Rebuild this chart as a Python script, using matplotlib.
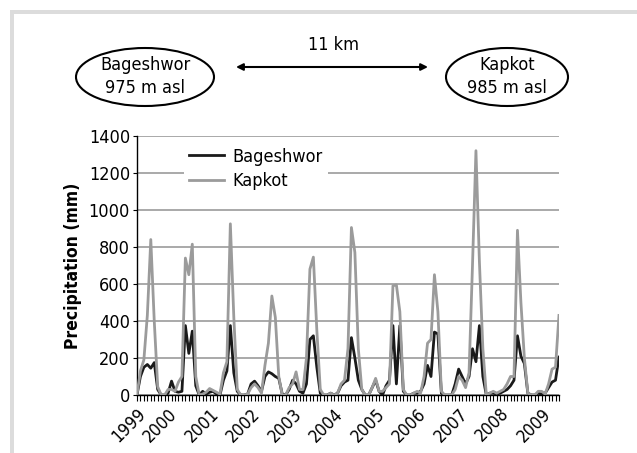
import matplotlib.pyplot as plt
from matplotlib.patches import Ellipse, Rectangle
import numpy as np

plt.rcParams['font.family'] = ['DejaVu Sans']
plt.rcParams['font.stretch'] = 'condensed'

# monthly rainfall, Apr 1999 - Jun 2009
bageshwor = [0, 100, 150, 165, 145, 175, 30, 0, 0,
             10, 75, 20, 15, 20, 375, 225, 345, 50, 0, 20, 5,
             15, 20, 5, 0, 80, 130, 375, 120, 20, 0, 0, 5,
             60, 75, 50, 20, 100, 125, 115, 100, 90, 5, 0, 30,
             80, 60, 20, 10, 60, 300, 320, 150, 10, 0, 0, 10,
             0, 10, 50, 70, 80, 310, 200, 80, 30, 0, 0, 40,
             80, 20, 0, 50, 80, 375, 60, 375, 20, 0, 0, 10,
             10, 20, 60, 160, 100, 340, 330, 10, 0, 0, 0, 60,
             140, 100, 60, 100, 250, 180, 375, 100, 0, 10, 10, 5,
             10, 20, 30, 50, 80, 320, 210, 170, 10, 0, 0, 10,
             5, 10, 40, 70, 80, 205]
kapkot = [0, 130, 190, 430, 840, 400, 45, 0, 0,
          30, 30, 20, 70, 100, 740, 650, 815, 100, 0, 5, 15,
          35, 25, 15, 5, 120, 180, 925, 420, 30, 0, 0, 5,
          40, 60, 40, 10, 160, 280, 535, 420, 100, 0, 0, 40,
          60, 125, 30, 30, 200, 680, 745, 350, 30, 0, 0, 10,
          0, 10, 60, 80, 250, 905, 770, 250, 30, 0, 0, 40,
          90, 20, 20, 40, 60, 590, 595, 450, 30, 0, 0, 10,
          20, 10, 100, 280, 300, 650, 450, 20, 0, 0, 0, 30,
          100, 80, 40, 120, 700, 1320, 720, 250, 0, 10, 20, 10,
          20, 30, 60, 100, 100, 890, 500, 200, 10, 0, 0, 20,
          20, 5, 60, 140, 150, 430]
years = ['1999', '2000', '2001', '2002', '2003', '2004', '2005', '2006', '2007', '2008', '2009']
year_pos = [0, 9, 21, 33, 45, 57, 69, 81, 93, 105, 117]

fig = plt.figure(figsize=(6.37, 4.53), dpi=100)

# overlay in pixel coords for frame + station diagram
ov = fig.add_axes([0, 0, 1, 1])
ov.set_xlim(0, 637)
ov.set_ylim(453, 0)
ov.axis('off')
ov.add_patch(Rectangle((10, 10), 627, 4, color='#dcdcdc', lw=0))
ov.add_patch(Rectangle((10, 10), 4, 443, color='#dcdcdc', lw=0))
ov.add_patch(Ellipse((145, 77), 138, 58, fill=False, ec='black', lw=1.5))
ov.add_patch(Ellipse((507, 77), 122, 58, fill=False, ec='black', lw=1.5))
ov.text(145, 65, 'Bageshwor', ha='center', va='center', fontsize=13)
ov.text(145, 88, '975 m asl', ha='center', va='center', fontsize=13)
ov.text(507, 65, 'Kapkot', ha='center', va='center', fontsize=13)
ov.text(507, 88, '985 m asl', ha='center', va='center', fontsize=13)
ov.annotate('', xy=(236, 67), xytext=(428, 67),
            arrowprops=dict(arrowstyle='<|-|>', color='black', lw=1.5,
                            mutation_scale=10, shrinkA=0, shrinkB=0))
ov.text(333, 45, '11 km', ha='center', va='center', fontsize=13)

ax = fig.add_axes([0.215, 0.128, 0.6625, 0.572])
x = np.arange(len(bageshwor))
ax.plot(x, bageshwor, color='#1a1a1a', lw=2, label='Bageshwor', zorder=3)
ax.plot(x, kapkot, color='#9b9b9b', lw=2, label='Kapkot', zorder=4)

ax.set_xlim(0, len(bageshwor) - 1)
ax.set_ylim(0, 1400)
ax.set_yticks(range(0, 1401, 200))
ax.yaxis.grid(True, color='#9b9b9b', lw=1.2)
ax.set_axisbelow(True)
ax.set_xticks(year_pos)
ax.set_xticklabels(years, rotation=45, ha='right', rotation_mode='anchor', fontsize=12.5)
ax.set_xticks(x, minor=True)
ax.tick_params(axis='x', which='both', length=4, width=0.8, direction='out', pad=3)
ax.tick_params(axis='y', length=3, labelsize=13, pad=2)
for s in ['top', 'right']:
    ax.spines[s].set_visible(False)
ax.spines['left'].set_linewidth(1)
ax.spines['bottom'].set_linewidth(1)
ax.set_ylabel('Precipitation (mm)', fontsize=12.5, fontweight='bold', labelpad=5)

leg = ax.legend(loc='upper left', bbox_to_anchor=(0.09, 1.01), frameon=True,
                fontsize=13, handlelength=1.9, handletextpad=0.5,
                borderpad=0.3, labelspacing=0.35)
leg.get_frame().set_edgecolor('none')
leg.get_frame().set_facecolor('white')
leg.get_frame().set_alpha(1)

fig.savefig('out.png', dpi=100)
